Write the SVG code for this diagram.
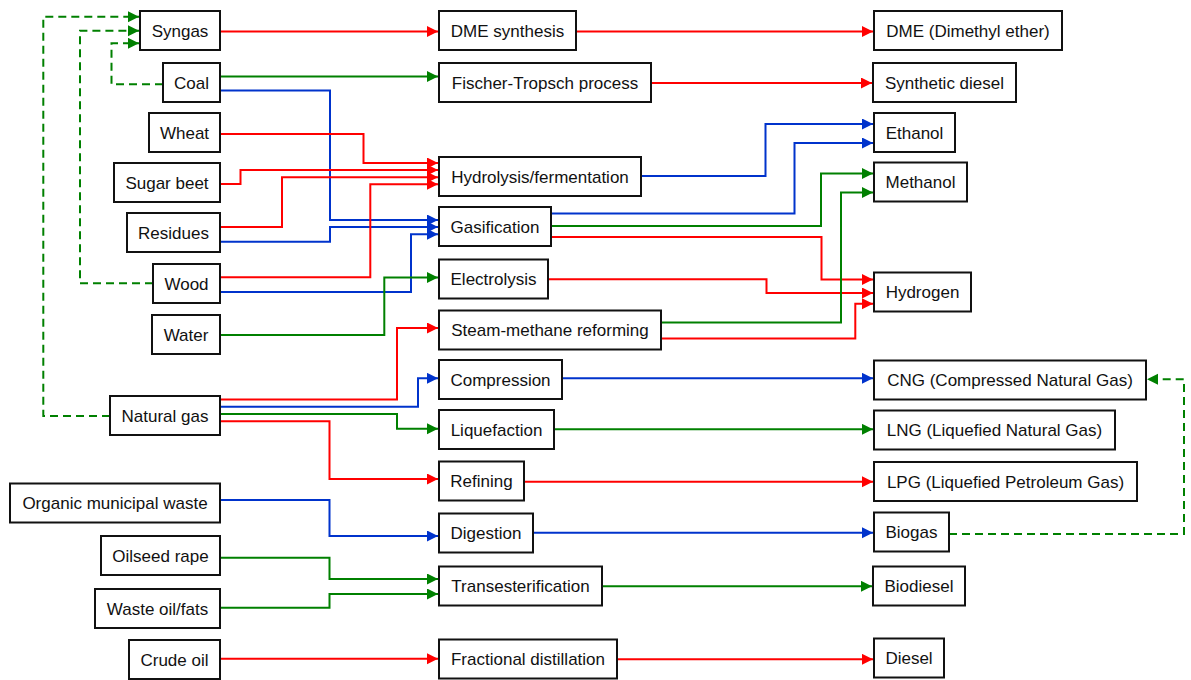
<svg xmlns="http://www.w3.org/2000/svg" width="1191" height="680" viewBox="0 0 1191 680">
<style>
.box{fill:#fff;stroke:#111;stroke-width:2}
.lbl{font-family:"Liberation Sans",Arial,Helvetica,sans-serif;font-size:17px;fill:#111;text-anchor:middle}
.c{fill:none;stroke-width:2}
.r{stroke:#ff0000;marker-end:url(#ar)}
.b{stroke:#0033cc;marker-end:url(#ab)}
.g{stroke:#008000;marker-end:url(#ag)}
.d{stroke:#008000;stroke-dasharray:8 5;marker-end:url(#ag)}
</style>
<defs>
<marker id="ar" markerUnits="userSpaceOnUse" markerWidth="12" markerHeight="12" refX="11" refY="5.5" orient="auto"><path d="M0,0 L11,5.5 L0,11 z" fill="#ff0000"/></marker>
<marker id="ab" markerUnits="userSpaceOnUse" markerWidth="12" markerHeight="12" refX="11" refY="5.5" orient="auto"><path d="M0,0 L11,5.5 L0,11 z" fill="#0033cc"/></marker>
<marker id="ag" markerUnits="userSpaceOnUse" markerWidth="12" markerHeight="12" refX="11" refY="5.5" orient="auto"><path d="M0,0 L11,5.5 L0,11 z" fill="#008000"/></marker>
</defs>
<rect width="1191" height="680" fill="#fff"/>
<g id="connectors">
<path class="c r" d="M220,31.5 H438"/>
<path class="c r" d="M576,31.5 H873"/>
<path class="c g" d="M220,76.5 H438"/>
<path class="c r" d="M651,83 H872"/>
<path class="c b" d="M220,90.5 H330 V220 H438"/>
<path class="c r" d="M220,134 H363.5 V163 H438"/>
<path class="c r" d="M220,184 H240.5 V170 H438"/>
<path class="c r" d="M220,227 H282 V177.3 H438"/>
<path class="c b" d="M220,241.7 H330 V227 H438"/>
<path class="c r" d="M220,277.3 H370.3 V184.3 H438"/>
<path class="c b" d="M220,292 H411 V234.3 H438"/>
<path class="c g" d="M220,335 H384.3 V277.5 H438"/>
<path class="c r" d="M220,399.5 H397 V328 H438"/>
<path class="c b" d="M220,406.7 H418 V378.3 H438"/>
<path class="c g" d="M220,414 H397 V428.7 H438"/>
<path class="c r" d="M220,421.3 H329.5 V479 H438"/>
<path class="c b" d="M220,500 H329.5 V536 H438"/>
<path class="c g" d="M220,557.7 H329.5 V579 H438"/>
<path class="c g" d="M220,607.7 H329.5 V594 H438"/>
<path class="c r" d="M220,658.7 H438"/>
<path class="c b" d="M641,176 H765.5 V124 H873"/>
<path class="c b" d="M551,213.5 H794.5 V143 H873"/>
<path class="c g" d="M551,226 H821 V173.5 H873"/>
<path class="c r" d="M551,237 H821.5 V279.5 H873"/>
<path class="c r" d="M548,279.3 H766.5 V293 H873"/>
<path class="c g" d="M661,322.5 H841 V192.5 H873"/>
<path class="c r" d="M661,338.5 H855.3 V303.7 H873"/>
<path class="c b" d="M562,378.3 H873"/>
<path class="c g" d="M554,429.3 H873"/>
<path class="c r" d="M524,481.7 H873"/>
<path class="c b" d="M532,532.7 H873"/>
<path class="c g" d="M602,586.3 H872"/>
<path class="c r" d="M617,659.3 H873"/>
<path class="c d" d="M163,84.3 H111.5 V43.3 H139"/>
<path class="c d" d="M153,283.3 H80 V30.7 H139"/>
<path class="c d" d="M110,416 H43.3 V16.7 H139"/>
<path class="c d" d="M949,534 H1184 V379.3 H1147"/>
</g>
<g id="n-syngas"><rect class="box" x="140" y="11" width="80" height="39"/><text class="lbl" x="180" y="36.5">Syngas</text></g>
<g id="n-coal"><rect class="box" x="163" y="63" width="57" height="39"/><text class="lbl" x="191.5" y="88.5">Coal</text></g>
<g id="n-wheat"><rect class="box" x="149" y="113" width="71" height="39"/><text class="lbl" x="184.5" y="138.5">Wheat</text></g>
<g id="n-sugarbeet"><rect class="box" x="114" y="163" width="106" height="39"/><text class="lbl" x="167" y="188.5">Sugar beet</text></g>
<g id="n-residues"><rect class="box" x="127" y="213" width="93" height="39"/><text class="lbl" x="173.5" y="238.5">Residues</text></g>
<g id="n-wood"><rect class="box" x="153" y="264" width="67" height="39"/><text class="lbl" x="186.5" y="289.5">Wood</text></g>
<g id="n-water"><rect class="box" x="152" y="315" width="68" height="39"/><text class="lbl" x="186" y="340.5">Water</text></g>
<g id="n-naturalgas"><rect class="box" x="110" y="396" width="110" height="39"/><text class="lbl" x="165" y="421.5">Natural gas</text></g>
<g id="n-omw"><rect class="box" x="10" y="483.5" width="210" height="39"/><text class="lbl" x="115" y="509">Organic municipal waste</text></g>
<g id="n-oilseed"><rect class="box" x="101" y="536" width="119" height="39"/><text class="lbl" x="160.5" y="561.5">Oilseed rape</text></g>
<g id="n-wasteoil"><rect class="box" x="95" y="589" width="125" height="39"/><text class="lbl" x="157.5" y="614.5">Waste oil/fats</text></g>
<g id="n-crudeoil"><rect class="box" x="129" y="640" width="91" height="39"/><text class="lbl" x="174.5" y="665.5">Crude oil</text></g>
<g id="n-dmesynth"><rect class="box" x="439" y="11" width="137" height="39"/><text class="lbl" x="507.5" y="36.5">DME synthesis</text></g>
<g id="n-ft"><rect class="box" x="439" y="63" width="212" height="39"/><text class="lbl" x="545" y="88.5">Fischer-Tropsch process</text></g>
<g id="n-hydrolysis"><rect class="box" x="439" y="157" width="202" height="39"/><text class="lbl" x="540" y="182.5">Hydrolysis/fermentation</text></g>
<g id="n-gasification"><rect class="box" x="439" y="207" width="112" height="39"/><text class="lbl" x="495" y="232.5">Gasification</text></g>
<g id="n-electrolysis"><rect class="box" x="439" y="259.5" width="109" height="39"/><text class="lbl" x="493.5" y="285">Electrolysis</text></g>
<g id="n-smr"><rect class="box" x="439" y="310.5" width="222" height="39"/><text class="lbl" x="550" y="336">Steam-methane reforming</text></g>
<g id="n-compression"><rect class="box" x="439" y="360" width="123" height="39"/><text class="lbl" x="500.5" y="385.5">Compression</text></g>
<g id="n-liquefaction"><rect class="box" x="439" y="410" width="115" height="39"/><text class="lbl" x="496.5" y="435.5">Liquefaction</text></g>
<g id="n-refining"><rect class="box" x="439" y="461.5" width="85" height="39"/><text class="lbl" x="481.5" y="487">Refining</text></g>
<g id="n-digestion"><rect class="box" x="439" y="513.5" width="94" height="39"/><text class="lbl" x="486" y="539">Digestion</text></g>
<g id="n-trans"><rect class="box" x="439" y="566.5" width="163" height="39"/><text class="lbl" x="520.5" y="592">Transesterification</text></g>
<g id="n-fractional"><rect class="box" x="439" y="639.5" width="178" height="39"/><text class="lbl" x="528" y="665">Fractional distillation</text></g>
<g id="n-dme"><rect class="box" x="874" y="11" width="188" height="39"/><text class="lbl" x="968" y="36.5">DME (Dimethyl ether)</text></g>
<g id="n-syndiesel"><rect class="box" x="873" y="63" width="143" height="39"/><text class="lbl" x="944.5" y="88.5">Synthetic diesel</text></g>
<g id="n-ethanol"><rect class="box" x="874" y="113" width="81" height="39"/><text class="lbl" x="914.5" y="138.5">Ethanol</text></g>
<g id="n-methanol"><rect class="box" x="874" y="162.5" width="93" height="39"/><text class="lbl" x="920.5" y="188">Methanol</text></g>
<g id="n-hydrogen"><rect class="box" x="874" y="272.5" width="97" height="39"/><text class="lbl" x="922.5" y="298">Hydrogen</text></g>
<g id="n-cng"><rect class="box" x="874" y="360.5" width="272" height="39"/><text class="lbl" x="1010" y="386">CNG (Compressed Natural Gas)</text></g>
<g id="n-lng"><rect class="box" x="874" y="410.5" width="241" height="39"/><text class="lbl" x="994.5" y="436">LNG (Liquefied Natural Gas)</text></g>
<g id="n-lpg"><rect class="box" x="874" y="462" width="263" height="39"/><text class="lbl" x="1005.5" y="487.5">LPG (Liquefied Petroleum Gas)</text></g>
<g id="n-biogas"><rect class="box" x="874" y="512.5" width="75" height="39"/><text class="lbl" x="911.5" y="538">Biogas</text></g>
<g id="n-biodiesel"><rect class="box" x="873" y="566.5" width="92" height="39"/><text class="lbl" x="919" y="592">Biodiesel</text></g>
<g id="n-diesel"><rect class="box" x="874" y="638.5" width="70" height="39"/><text class="lbl" x="909" y="664">Diesel</text></g>
</svg>
